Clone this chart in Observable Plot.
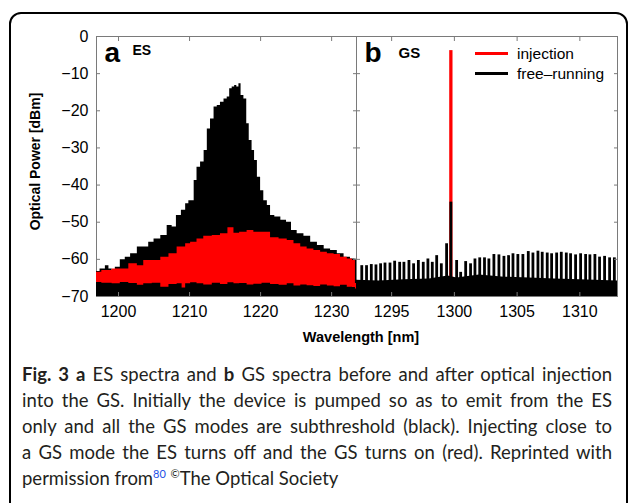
<!DOCTYPE html>
<html><head><meta charset="utf-8">
<script src="https://cdn.jsdelivr.net/npm/d3@7"></script>
<script src="https://cdn.jsdelivr.net/npm/@observablehq/plot@0.6"></script>
<style>
html,body{margin:0;padding:0;background:#fff;}
#wrap{position:relative;width:629px;height:503px;overflow:hidden;font-family:"Liberation Sans",Arial,Helvetica,sans-serif;color:#000;}
#border{position:absolute;left:9px;top:11.5px;width:619px;height:600px;box-sizing:border-box;border:2.5px solid #000;border-radius:12px;}
#pa{position:absolute;left:0;top:0;}
#pb{position:absolute;left:356px;top:0;}
.sw{position:absolute;left:475px;width:33px;height:2.6px;}
.lt{position:absolute;left:517px;font-size:15.5px;line-height:1;white-space:nowrap;}
#xlabel{position:absolute;left:261px;width:200px;text-align:center;top:330px;font-weight:bold;font-size:14.5px;line-height:1;}
#caption{position:absolute;left:22px;top:361px;width:590px;font-family:Lato,"Open Sans",sans-serif;font-size:18.5px;line-height:26px;color:#231f20;}
#caption .j{text-align:justify;text-align-last:justify;white-space:nowrap;}
#caption sup{font-size:11px;line-height:0;vertical-align:7px;}
</style></head><body>
<div id="wrap">
  <div id="border"></div>
  <div id="pa"></div>
  <div id="pb"></div>
  <div id="legend"></div>
  <div id="xlabel"></div>
  <div id="caption">
    <div class="j"><b>Fig. 3</b> <b>a</b> ES spectra and <b>b</b> GS spectra before and after optical injection</div>
    <div class="j">into the GS. Initially the device is pumped so as to emit from the ES</div>
    <div class="j">only and all the GS modes are subthreshold (black). Injecting close to</div>
    <div class="j">a GS mode the ES turns off and the GS turns on (red). Reprinted with</div>
    <div>permission from<sup style="color:#2450e6">80</sup> <sup>©</sup>The Optical Society</div>
  </div>
</div>
<script>
// ---------- data ----------
const yTicks = [-70, -60, -50, -40, -30, -20, -10, 0];
const xTicksES = [1200, 1210, 1220, 1230];
const xTicksGS = [1295, 1300, 1305, 1310];
const panelLetters = ["a", "b"];
const panelNames = ["ES", "GS"];
const yLabel = "Optical Power [dBm]";
const xLabel = "Wavelength [nm]";
const seriesNames = ["injection", "free\u2013running"];
const seriesColors = ["#ff0000", "#000000"];

// ES, free-running (black): upper envelope
const esFreeWl = [
  1196.9, 1197.9, 1198.4, 1198.9, 1199.3, 1199.8, 1200.7, 1201.2, 1202.2, 1203.1,
  1204.0, 1204.5, 1205.5, 1206.4, 1207.3, 1207.8, 1208.5, 1209.2, 1209.7, 1210.1,
  1210.5, 1210.8, 1211.3, 1211.8, 1212.3, 1212.7, 1213.2, 1213.7, 1214.1, 1214.6,
  1215.1, 1215.5, 1215.8, 1216.2, 1216.5, 1216.8, 1217.1, 1217.4, 1217.9, 1218.2,
  1218.6, 1219.0, 1219.3, 1219.8, 1220.2, 1220.7, 1221.2, 1221.6, 1222.4, 1223.3,
  1224.0, 1224.7, 1225.6, 1226.6, 1227.5, 1228.5, 1229.4, 1230.3, 1231.3, 1232.2,
  1233.1, 1233.5];
const esFreeTop = [
  -63.3, -62.6, -61.7, -62.6, -63.0, -62.1, -60.1, -59.4, -58.5, -56.7,
  -56.7, -55.4, -54.5, -53.6, -50.9, -51.3, -48.2, -46.8, -45.0, -44.2,
  -44.2, -38.8, -35.2, -33.8, -30.7, -24.9, -22.2, -19.0, -18.6, -17.7,
  -16.8, -16.3, -14.1, -13.6, -13.2, -13.6, -12.7, -15.9, -16.8, -23.5,
  -28.0, -30.7, -33.4, -37.9, -41.5, -44.2, -45.5, -48.2, -48.6, -49.5,
  -50.0, -52.2, -53.1, -53.8, -55.4, -56.3, -57.2, -57.6, -58.5, -59.4,
  -59.9, -60.0];

// ES, injection (red): upper and lower envelope
const esInjWl = [
  1196.9, 1198.4, 1199.8, 1200.7, 1202.2, 1203.1, 1204.0, 1205.5, 1206.4, 1207.8,
  1208.7, 1209.2, 1209.7, 1210.6, 1211.5, 1212.5, 1213.9, 1214.8, 1216.0, 1216.5,
  1217.6, 1218.6, 1219.5, 1220.9, 1221.9, 1223.3, 1224.2, 1225.2, 1226.1, 1227.0,
  1228.0, 1228.9, 1229.9, 1230.8, 1231.7, 1232.7, 1233.2, 1233.5];
const esInjTop = [
  -63.5, -63.0, -62.6, -62.6, -61.2, -61.7, -60.3, -60.3, -59.4, -58.5,
  -56.7, -56.7, -55.8, -55.4, -54.5, -53.8, -53.6, -53.1, -51.5, -53.0,
  -52.7, -52.2, -52.7, -52.7, -54.2, -54.5, -54.9, -55.8, -56.7, -57.2,
  -57.6, -58.1, -58.5, -58.7, -59.4, -59.9, -60.3, -66.5];
const esInjBottom = [
  -66.2, -66.4, -66.6, -66.2, -66.5, -67.0, -66.6, -66.4, -67.5, -66.8,
  -66.6, -67.7, -66.6, -66.3, -66.6, -66.9, -66.4, -66.8, -66.3, -66.6,
  -66.5, -66.9, -66.7, -66.4, -66.8, -67.0, -66.6, -67.2, -66.9, -67.1,
  -67.3, -66.9, -67.2, -67.4, -67.0, -67.5, -67.6, -68.0];

// GS, free-running (black): longitudinal mode peaks
const gsModeWl = [
  1292.62, 1293.00, 1293.38, 1293.75, 1294.12, 1294.47, 1294.87, 1295.24, 1295.64, 1295.98,
  1296.38, 1296.75, 1297.13, 1297.52, 1297.89, 1298.24, 1298.59, 1298.96, 1299.38, 1299.72,
  1300.18, 1300.50, 1300.90, 1301.29, 1301.64, 1302.02, 1302.40, 1302.75, 1303.15, 1303.55,
  1303.95, 1304.32, 1304.67, 1305.06, 1305.46, 1305.89, 1306.26, 1306.66, 1307.00, 1307.40,
  1307.75, 1308.15, 1308.52, 1308.92, 1309.26, 1309.66, 1310.06, 1310.46, 1310.80, 1311.20,
  1311.57, 1311.97, 1312.37, 1312.75];
const gsModePeak = [
  -61.7, -61.7, -61.4, -61.5, -61.2, -61.0, -61.0, -60.5, -60.8, -60.8,
  -60.3, -61.2, -60.3, -60.8, -59.9, -60.8, -59.0, -61.2, -55.8, -44.6,
  -60.3, -63.5, -60.6, -61.2, -59.9, -59.6, -59.6, -59.9, -58.7, -58.8,
  -59.2, -59.0, -58.5, -58.7, -58.7, -57.9, -58.3, -57.8, -58.1, -58.3,
  -58.5, -58.3, -58.1, -58.3, -58.5, -58.8, -58.5, -58.7, -58.8, -58.7,
  -59.4, -59.2, -59.6, -59.6];
// GS, free-running: background between modes
const gsFloorWl = [1292.2, 1294.0, 1296.0, 1298.0, 1299.5, 1300.2, 1302.0, 1304.0, 1306.0, 1308.0, 1310.0, 1313.0];
const gsFloor = [-65.6, -65.8, -65.5, -65.3, -64.5, -65.0, -64.2, -64.8, -65.0, -65.3, -65.5, -65.8];
// GS, injection (red): injection-locked line
const gsInjWl = [1299.72];
const gsInjPeak = [-3.8];

// ---------- build ----------
const FONT = '"Liberation Sans", Arial, Helvetica, sans-serif';
const GRAY = "#7a7a7a";
const fmt = d3.format("d");
const zip2 = (a, b, c) => a.map((x, i) => ({x, top: b[i], bot: c ? c[i] : -70}));
const esFree = zip2(esFreeWl, esFreeTop);
const esInj = zip2(esInjWl, esInjTop, esInjBottom);
const gsModes = zip2(gsModeWl, gsModePeak);
const gsBg = zip2(gsFloorWl, gsFloor);
const gsInj = zip2(gsInjWl, gsInjPeak);

function tickMarks(xt) {
  const blank = () => "";
  return [
    Plot.axisX({ticks: xt, anchor: "top", tickSize: -4, tickFormat: blank, stroke: GRAY, label: null}),
    Plot.axisX({ticks: xt, anchor: "bottom", tickSize: -4, tickFormat: blank, stroke: GRAY, label: null}),
    Plot.axisY({ticks: yTicks, anchor: "left", tickSize: -4, tickFormat: blank, stroke: GRAY, label: null}),
    Plot.axisY({ticks: yTicks, anchor: "right", tickSize: -4, tickFormat: blank, stroke: GRAY, label: null}),
    Plot.axisX({ticks: xt, anchor: "bottom", tickSize: 0, tickPadding: 9, tickFormat: fmt, label: null, fontSize: 16})
  ];
}
const style = {fontFamily: FONT, fontSize: "16px", color: "#000", background: "transparent", overflow: "visible"};

const pa = Plot.plot({
  width: 356, height: 322, marginLeft: 96, marginRight: 0, marginTop: 36, marginBottom: 26,
  x: {domain: [1196.9, 1233.5], label: null},
  y: {domain: [-70, 0], label: null},
  style,
  marks: [
    Plot.frame({stroke: GRAY}),
    Plot.areaY(esFree, {x: "x", y1: "bot", y2: "top", fill: seriesColors[1], curve: "step"}),
    Plot.areaY(esInj, {x: "x", y1: "bot", y2: "top", fill: seriesColors[0], curve: "step"}),
    ...tickMarks(xTicksES),
    Plot.axisY({ticks: yTicks, anchor: "left", tickSize: 0, tickPadding: 8, tickFormat: fmt, label: null, fontSize: 16}),
    Plot.text([yLabel], {text: d => d, frameAnchor: "left", dx: -61, dy: -5, rotate: -90, fontWeight: "bold", fontSize: 14, textAnchor: "middle"}),
    Plot.text([panelLetters[0]], {text: d => d, frameAnchor: "top-left", dx: 8, dy: 6, lineAnchor: "top", textAnchor: "start", fontSize: 28, fontWeight: "bold"}),
    Plot.text([panelNames[0]], {text: d => d, frameAnchor: "top-left", dx: 36, dy: 9, lineAnchor: "top", textAnchor: "start", fontSize: 14, fontWeight: "bold"})
  ]
});
document.getElementById("pa").append(pa);

const pb = Plot.plot({
  width: 273, height: 322, marginLeft: 0, marginRight: 12, marginTop: 36, marginBottom: 26,
  x: {domain: [1292.2, 1313.0], label: null},
  y: {domain: [-70, 0], label: null},
  style,
  marks: [
    Plot.frame({stroke: GRAY}),
    Plot.ruleX(gsInj, {x: "x", y1: "bot", y2: "top", stroke: seriesColors[0], strokeWidth: 3.3}),
    Plot.areaY(gsBg, {x: "x", y1: "bot", y2: "top", fill: seriesColors[1]}),
    Plot.ruleX(gsModes, {x: "x", y1: "bot", y2: "top", stroke: seriesColors[1], strokeWidth: 2.8}),
    ...tickMarks(xTicksGS),
    Plot.text([panelLetters[1]], {text: d => d, frameAnchor: "top-left", dx: 8, dy: 6, lineAnchor: "top", textAnchor: "start", fontSize: 28, fontWeight: "bold"}),
    Plot.text([panelNames[1]], {text: d => d, frameAnchor: "top-left", dx: 42, dy: 11, lineAnchor: "top", textAnchor: "start", fontSize: 15, fontWeight: "bold"})
  ]
});
document.getElementById("pb").append(pb);

// legend
const leg = document.getElementById("legend");
seriesNames.forEach((name, i) => {
  const sw = document.createElement("div");
  sw.className = "sw"; sw.style.background = seriesColors[i]; sw.style.top = (52 + 20 * i) + "px";
  const t = document.createElement("div");
  t.className = "lt"; t.textContent = name; t.style.top = (45.5 + 20 * i) + "px";
  leg.append(sw, t);
});
document.getElementById("xlabel").textContent = xLabel;
</script>
</body></html>
